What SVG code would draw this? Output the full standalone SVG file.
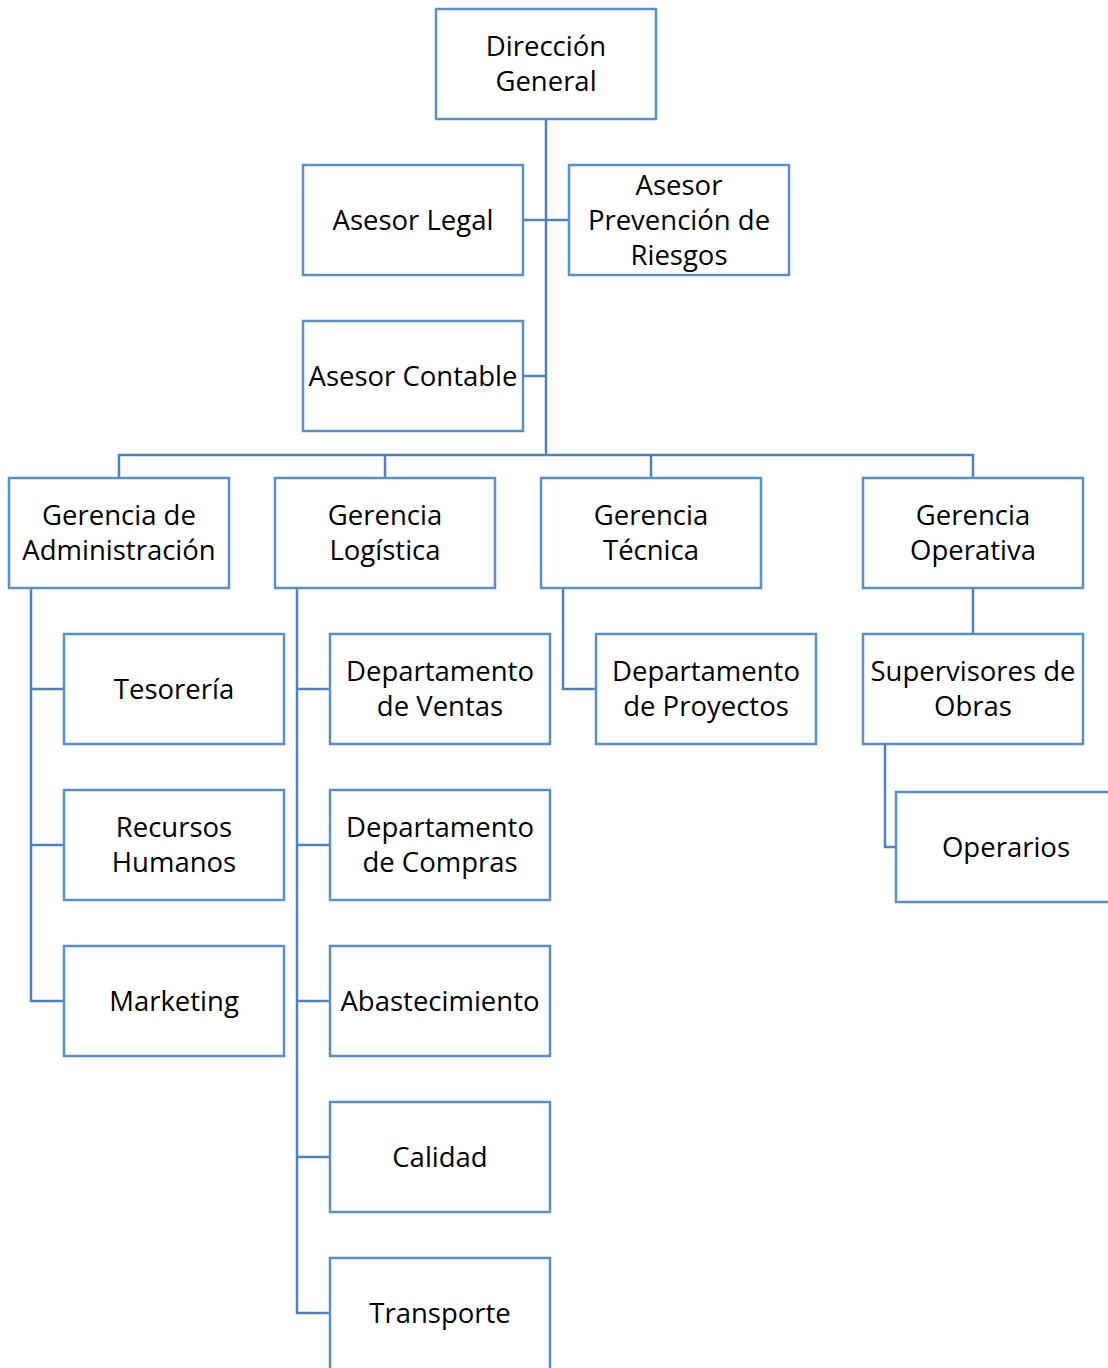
<svg xmlns="http://www.w3.org/2000/svg" width="1108" height="1368" viewBox="0 0 1108 1368">
  <style>
    .box { fill: #ffffff; stroke: #5B8FC9; stroke-width: 2.5; }
    .lbl { font-family: "Open Sans", "Liberation Sans", Arial, sans-serif; font-size: 27.5px; fill: #000000; text-anchor: middle; }
    .wire { fill: none; stroke: #4F81BD; stroke-width: 2.5; }
  </style>
  <rect width="1108" height="1368" fill="#ffffff"/>

  <!-- connectors -->
  <g id="connectors" class="wire">
    <path d="M546 119 V455"/>
    <path d="M523 220 H569"/>
    <path d="M523 376 H546"/>
    <path d="M119 478 V455 H973 V478"/>
    <path d="M385 455 V478"/>
    <path d="M651 455 V478"/>
    <!-- Gerencia de Administración -->
    <path d="M31 588 V1001 H64"/>
    <path d="M31 689 H64"/>
    <path d="M31 845 H64"/>
    <!-- Gerencia Logística -->
    <path d="M297 588 V1313 H330"/>
    <path d="M297 689 H330"/>
    <path d="M297 845 H330"/>
    <path d="M297 1001 H330"/>
    <path d="M297 1157 H330"/>
    <!-- Gerencia Técnica -->
    <path d="M563 588 V689 H596"/>
    <!-- Gerencia Operativa -->
    <path d="M973 588 V634"/>
    <path d="M885 744 V847 H896"/>
  </g>

  <g id="direccion-general">
    <rect class="box" x="436" y="9" width="220" height="110"/>
    <text class="lbl" x="546" y="56">Dirección</text>
    <text class="lbl" x="546" y="91">General</text>
  </g>
  <g id="asesor-legal">
    <rect class="box" x="303" y="165" width="220" height="110"/>
    <text class="lbl" x="413" y="230">Asesor Legal</text>
  </g>
  <g id="asesor-prevencion">
    <rect class="box" x="569" y="165" width="220" height="110"/>
    <text class="lbl" x="679" y="195">Asesor</text>
    <text class="lbl" x="679" y="230">Prevención de</text>
    <text class="lbl" x="679" y="265">Riesgos</text>
  </g>
  <g id="asesor-contable">
    <rect class="box" x="303" y="321" width="220" height="110"/>
    <text class="lbl" x="413" y="386">Asesor Contable</text>
  </g>

  <g id="gerencia-administracion">
    <rect class="box" x="9" y="478" width="220" height="110"/>
    <text class="lbl" x="119" y="525">Gerencia de</text>
    <text class="lbl" x="119" y="560">Administración</text>
  </g>
  <g id="gerencia-logistica">
    <rect class="box" x="275" y="478" width="220" height="110"/>
    <text class="lbl" x="385" y="525">Gerencia</text>
    <text class="lbl" x="385" y="560">Logística</text>
  </g>
  <g id="gerencia-tecnica">
    <rect class="box" x="541" y="478" width="220" height="110"/>
    <text class="lbl" x="651" y="525">Gerencia</text>
    <text class="lbl" x="651" y="560">Técnica</text>
  </g>
  <g id="gerencia-operativa">
    <rect class="box" x="863" y="478" width="220" height="110"/>
    <text class="lbl" x="973" y="525">Gerencia</text>
    <text class="lbl" x="973" y="560">Operativa</text>
  </g>

  <g id="tesoreria">
    <rect class="box" x="64" y="634" width="220" height="110"/>
    <text class="lbl" x="174" y="699">Tesorería</text>
  </g>
  <g id="recursos-humanos">
    <rect class="box" x="64" y="790" width="220" height="110"/>
    <text class="lbl" x="174" y="837">Recursos</text>
    <text class="lbl" x="174" y="872">Humanos</text>
  </g>
  <g id="marketing">
    <rect class="box" x="64" y="946" width="220" height="110"/>
    <text class="lbl" x="174" y="1011">Marketing</text>
  </g>

  <g id="depto-ventas">
    <rect class="box" x="330" y="634" width="220" height="110"/>
    <text class="lbl" x="440" y="681">Departamento</text>
    <text class="lbl" x="440" y="716">de Ventas</text>
  </g>
  <g id="depto-compras">
    <rect class="box" x="330" y="790" width="220" height="110"/>
    <text class="lbl" x="440" y="837">Departamento</text>
    <text class="lbl" x="440" y="872">de Compras</text>
  </g>
  <g id="abastecimiento">
    <rect class="box" x="330" y="946" width="220" height="110"/>
    <text class="lbl" x="440" y="1011">Abastecimiento</text>
  </g>
  <g id="calidad">
    <rect class="box" x="330" y="1102" width="220" height="110"/>
    <text class="lbl" x="440" y="1167">Calidad</text>
  </g>
  <g id="transporte">
    <rect class="box" x="330" y="1258" width="220" height="112"/>
    <text class="lbl" x="440" y="1323">Transporte</text>
  </g>

  <g id="depto-proyectos">
    <rect class="box" x="596" y="634" width="220" height="110"/>
    <text class="lbl" x="706" y="681">Departamento</text>
    <text class="lbl" x="706" y="716">de Proyectos</text>
  </g>

  <g id="supervisores">
    <rect class="box" x="863" y="634" width="220" height="110"/>
    <text class="lbl" x="973" y="681">Supervisores de</text>
    <text class="lbl" x="973" y="716">Obras</text>
  </g>
  <g id="operarios">
    <rect class="box" x="896" y="792" width="222" height="110"/>
    <text class="lbl" x="1006" y="857">Operarios</text>
  </g>
</svg>
